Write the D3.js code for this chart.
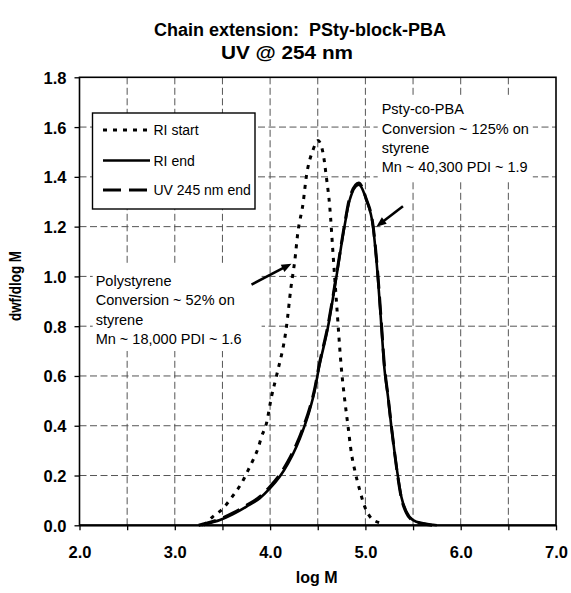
<!DOCTYPE html>
<html><head><meta charset="utf-8">
<script src="https://cdn.jsdelivr.net/npm/d3@7"></script>
<style>
html,body{margin:0;padding:0;background:#fff;}
svg{display:block;font-family:"Liberation Sans",Arial,Helvetica,sans-serif;}
text{white-space:pre;}
</style></head><body>
<svg id="chart" width="571" height="593"></svg>
<script>
// ---- data ----
const titleLines = ["Chain extension:  PSty-block-PBA", "UV @ 254 nm"];
const xTitle = "log M";
const yTitle = "dwf/dlog M";
const xTickValues = [2.0, 2.5, 3.0, 3.5, 4.0, 4.5, 5.0, 5.5, 6.0, 6.5, 7.0];
const xLabelValues = [2.0, 3.0, 4.0, 5.0, 6.0, 7.0];
const yTickValues = [0.0, 0.2, 0.4, 0.6, 0.8, 1.0, 1.2, 1.4, 1.6, 1.8];
const seriesNames = ["RI start", "RI end", "UV 245 nm end"];

const riStartLogM = [3.30, 3.40, 3.507, 3.578, 3.63, 3.70, 3.77, 3.822, 3.874, 3.91, 3.962, 4.015, 4.067, 4.172, 4.22, 4.26, 4.29, 4.346, 4.38, 4.45, 4.503, 4.556, 4.59, 4.626, 4.66, 4.70, 4.748, 4.783, 4.818, 4.853, 4.888, 4.94, 4.993, 5.063, 5.178, 5.20];
const riStartVal  = [0.000, 0.035, 0.068, 0.102, 0.129, 0.169, 0.222, 0.263, 0.310, 0.356, 0.410, 0.517, 0.600, 0.799, 0.959, 1.066, 1.173, 1.294, 1.400, 1.508, 1.546, 1.495, 1.400, 1.280, 1.093, 0.878, 0.630, 0.504, 0.397, 0.290, 0.222, 0.142, 0.075, 0.028, 0.005, 0.000];

const riEndLogM = [3.28, 3.333, 3.473, 3.612, 3.752, 3.892, 4.00, 4.10, 4.189, 4.276, 4.346, 4.416, 4.469, 4.51, 4.608, 4.696, 4.78, 4.835, 4.93, 5.01, 5.08, 5.13, 5.168, 5.20, 5.237, 5.272, 5.307, 5.342, 5.377, 5.43, 5.50, 5.604, 5.709, 5.75];
const riEndVal  = [0.000, 0.005, 0.021, 0.045, 0.075, 0.109, 0.149, 0.195, 0.249, 0.316, 0.383, 0.464, 0.544, 0.628, 0.798, 0.999, 1.200, 1.307, 1.368, 1.307, 1.200, 0.999, 0.798, 0.628, 0.517, 0.397, 0.290, 0.195, 0.115, 0.055, 0.021, 0.008, 0.002, 0.000];

const uvEndLogM = [3.25, 3.333, 3.473, 3.612, 3.752, 3.892, 4.00, 4.10, 4.189, 4.276, 4.346, 4.416, 4.469, 4.51, 4.608, 4.696, 4.78, 4.835, 4.93, 5.01, 5.08, 5.13, 5.168, 5.20, 5.237, 5.272, 5.307, 5.342, 5.377, 5.43, 5.50, 5.60, 5.70];
const uvEndVal  = [0.000, 0.008, 0.025, 0.050, 0.080, 0.115, 0.156, 0.203, 0.258, 0.325, 0.392, 0.472, 0.550, 0.635, 0.805, 1.005, 1.205, 1.315, 1.375, 1.310, 1.205, 1.010, 0.810, 0.640, 0.520, 0.400, 0.290, 0.190, 0.110, 0.050, 0.018, 0.006, 0.000];

const polyNote = ["Polystyrene", "Conversion ~ 52% on", "styrene", "Mn ~ 18,000 PDI ~ 1.6"];
const pbaNote  = ["Psty-co-PBA", "Conversion ~ 125% on", "styrene", "Mn ~ 40,300 PDI ~ 1.9"];
const polyNoteAt = [2.17, 0.961];
const pbaNoteAt  = [5.171, 1.651];
const polyArrow = [[3.805, 0.967], [4.224, 1.051]];
const pbaArrow  = [[5.394, 1.282], [5.115, 1.200]];

// ---- layout ----
const svg = d3.select("#chart");
const L = 79.5, R = 556, T = 77.3, B = 525.3;
const x = d3.scaleLinear().domain([2, 7]).range([L, R]);
const y = d3.scaleLinear().domain([0, 1.8]).range([B, T]);
const font = "'Liberation Sans', Arial, Helvetica, sans-serif";

// title
svg.append("text").attr("x", 300).attr("y", 36).attr("text-anchor", "middle")
  .attr("font-size", 18).attr("font-weight", "bold").text(titleLines[0]);
svg.append("text").attr("x", 287).attr("y", 58.5).attr("text-anchor", "middle")
  .attr("font-size", 18).attr("font-weight", "bold")
  .attr("textLength", 132).attr("lengthAdjust", "spacingAndGlyphs").text(titleLines[1]);

// grid
const grid = svg.append("g").attr("stroke", "#555").attr("stroke-width", 1).attr("stroke-dasharray", "7,3.5");
grid.selectAll("line.v").data(xTickValues.filter(v => v > 2 && v < 7)).join("line")
  .attr("x1", d => x(d)).attr("x2", d => x(d)).attr("y1", T).attr("y2", B);
grid.selectAll("line.h").data(yTickValues.filter(v => v > 0 && v < 1.8)).join("line")
  .attr("class", "h").attr("x1", L).attr("x2", R).attr("y1", d => y(d)).attr("y2", d => y(d));

// axes
const xAxis = d3.axisBottom(x).tickValues(xTickValues).tickSize(5).tickFormat(() => "");
const gx = svg.append("g").attr("transform", `translate(0,${B})`).call(xAxis);
gx.select(".domain").remove();
gx.selectAll("line").attr("stroke", "#000").attr("stroke-width", 1.3);
const xLab = d3.axisBottom(x).tickValues(xLabelValues).tickSize(0).tickPadding(21).tickFormat(d3.format(".1f"));
const gxl = svg.append("g").attr("transform", `translate(0,${B})`).call(xLab);
gxl.select(".domain").remove();
gxl.selectAll("text").attr("font-size", 16.5).attr("font-weight", "bold").attr("font-family", font).attr("fill", "#000");

const yAxis = d3.axisLeft(y).tickValues(yTickValues).tickSize(5).tickPadding(8).tickFormat(d3.format(".1f"));
const gy = svg.append("g").attr("transform", `translate(${L},0)`).call(yAxis);
gy.select(".domain").remove();
gy.selectAll("line").attr("stroke", "#000").attr("stroke-width", 1.3);
gy.selectAll("text").attr("font-size", 16.5).attr("font-weight", "bold").attr("font-family", font).attr("fill", "#000").attr("dy", "0.36em");

// frame
svg.append("rect").attr("x", L).attr("y", T).attr("width", R - L).attr("height", B - T)
  .attr("fill", "none").attr("stroke", "#000").attr("stroke-width", 1.6);
svg.append("line").attr("x1", L).attr("x2", R).attr("y1", B).attr("y2", B).attr("stroke", "#000").attr("stroke-width", 2.2);

// axis titles
svg.append("text").attr("x", 316.7).attr("y", 582.5).attr("text-anchor", "middle")
  .attr("font-size", 16).attr("font-weight", "bold").text(xTitle);
svg.append("text").attr("transform", "translate(20.5,286) rotate(-90)").attr("text-anchor", "middle")
  .attr("font-size", 16).attr("font-weight", "bold").attr("textLength", 70).attr("lengthAdjust", "spacingAndGlyphs").text(yTitle);

// annotation boxes (white background hides grid)
function note(lines, at, padL, padR, padT, padB) {
  const ax = x(at[0]), ay = y(at[1]);
  const g = svg.append("g");
  const rect = g.append("rect").attr("fill", "#fff");
  const t = g.append("text").attr("font-size", 14.5).attr("fill", "#000");
  lines.forEach((s, i) => t.append("tspan").attr("x", ax).attr("y", ay + i * 19.3).text(s));
  const bb = t.node().getBBox();
  rect.attr("x", bb.x - padL).attr("y", bb.y - padT).attr("width", bb.width + padL + padR).attr("height", bb.height + padT + padB);
}
note(polyNote, polyNoteAt, 3, 20, 8, 4);
note(pbaNote, pbaNoteAt, 4, 4, 5, 4);

// curves
const line = d3.line().x(d => x(d[0])).y(d => y(d[1])).curve(d3.curveMonotoneX);
const zip = (a, b) => a.map((v, i) => [v, b[i]]);
svg.append("path").datum(zip(riEndLogM, riEndVal)).attr("d", line)
  .attr("fill", "none").attr("stroke", "#000").attr("stroke-width", 2.6);
svg.append("path").datum(zip(uvEndLogM, uvEndVal)).attr("d", line)
  .attr("fill", "none").attr("stroke", "#000").attr("stroke-width", 3).attr("stroke-dasharray", "18,8");
svg.append("path").datum(zip(riStartLogM, riStartVal)).attr("d", line)
  .attr("fill", "none").attr("stroke", "#000").attr("stroke-width", 3).attr("stroke-dasharray", "4,6");

// arrows
function arrow(pts) {
  const x1 = x(pts[0][0]), y1 = y(pts[0][1]), x2 = x(pts[1][0]), y2 = y(pts[1][1]);
  const dx = x2 - x1, dy = y2 - y1, len = Math.hypot(dx, dy), ux = dx / len, uy = dy / len;
  const hl = 10, hw = 4;
  svg.append("line").attr("x1", x1).attr("y1", y1).attr("x2", x2 - ux * (hl - 2)).attr("y2", y2 - uy * (hl - 2))
    .attr("stroke", "#000").attr("stroke-width", 2.6);
  const bx = x2 - ux * hl, by = y2 - uy * hl;
  svg.append("path").attr("d", `M${x2},${y2}L${bx - uy * hw},${by + ux * hw}L${bx + uy * hw},${by - ux * hw}Z`).attr("fill", "#000");
}
arrow(polyArrow);
arrow(pbaArrow);

// legend
const lg = svg.append("g");
lg.append("rect").attr("x", 92.5).attr("y", 113).attr("width", 162.5).attr("height", 96)
  .attr("fill", "#fff").attr("stroke", "#000").attr("stroke-width", 1.4);
const legStyles = [{dash: "4,6", w: 3}, {dash: null, w: 2.6}, {dash: "18,8", w: 3}];
const legY = [130, 160.5, 190];
seriesNames.forEach((n, i) => {
  lg.append("line").attr("x1", 103).attr("x2", 150).attr("y1", legY[i]).attr("y2", legY[i])
    .attr("stroke", "#000").attr("stroke-width", legStyles[i].w).attr("stroke-dasharray", legStyles[i].dash);
  lg.append("text").attr("x", 153.5).attr("y", legY[i] + 5).attr("font-size", 14).text(n);
});
</script>
</body></html>
